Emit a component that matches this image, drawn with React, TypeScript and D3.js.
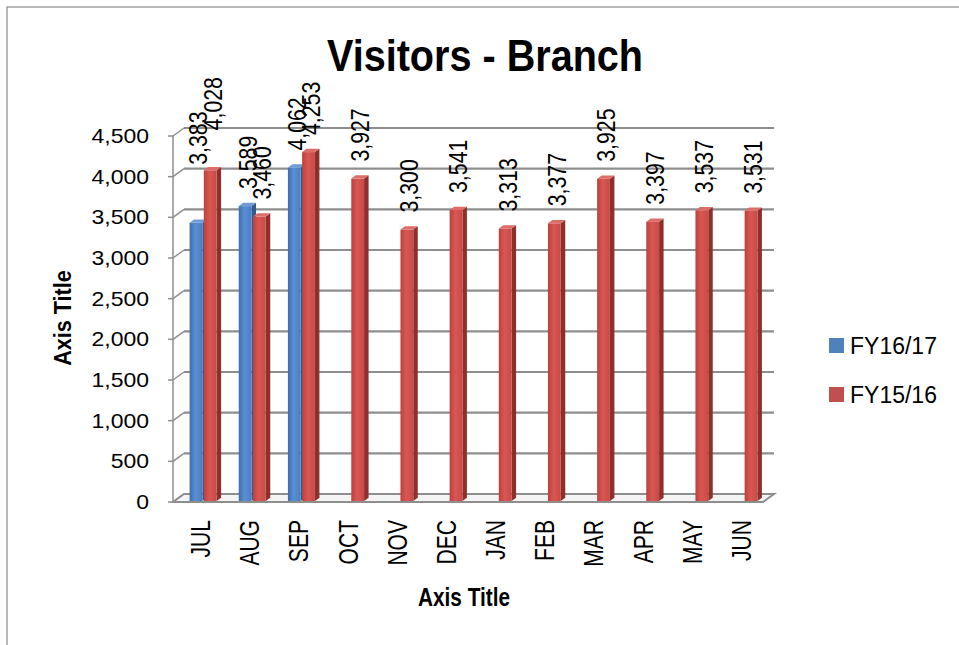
import React from 'react';
import * as d3 from 'd3';

const categories = ['JUL', 'AUG', 'SEP', 'OCT', 'NOV', 'DEC', 'JAN', 'FEB', 'MAR', 'APR', 'MAY', 'JUN'];
const seriesNames = ['FY16/17', 'FY15/16'];
const fy1617: (number | null)[] = [3383, 3589, 4062, null, null, null, null, null, null, null, null, null];
const fy1516: (number | null)[] = [4028, 3460, 4253, 3927, 3300, 3541, 3313, 3377, 3925, 3397, 3537, 3531];
const yTicks = [0, 500, 1000, 1500, 2000, 2500, 3000, 3500, 4000, 4500];

const W = 959;
const H = 645;
const X0 = 173;
const X1 = 763;
const YB = 502;
const YT = 136;
const DX = 11;
const DY = -8;
const BDX = 5.5;
const BDY = -4;
const SIDE_DX = 4.5;
const SIDE_DY = -3.3;
const LABEL_GAP = 17;
// extra lift of the hand-placed July labels in the reference
const labelLift: Record<string, number> = { 'JUL|FY16/17': 41, 'JUL|FY15/16': 23 };

const sans = '"Liberation Sans", Arial, sans-serif';
const grid = '#8e8e8e';

const colors: Record<string, { front: string; side: string; top: string }> = {
  'FY16/17': { front: 'url(#gBlue)', side: '#335a8e', top: '#6f9bd6' },
  'FY15/16': { front: 'url(#gRed)', side: '#8e2f2c', top: '#dc6d69' },
};
const legendColors: Record<string, string> = { 'FY16/17': '#4f81bd', 'FY15/16': '#c0504d' };

export default function App() {
  const y = d3.scaleLinear().domain([0, 4500]).range([YB, YT]);
  const xFront = d3.scaleBand<string>().domain(categories).range([X0, X1]).padding(0);
  const xBar = d3.scaleBand<string>().domain(categories).range([X0 + BDX, X1 + BDX]).padding(0);

  const seriesData: Record<string, (number | null)[]> = { 'FY16/17': fy1617, 'FY15/16': fy1516 };

  const bars: React.ReactNode[] = [];
  const labels: React.ReactNode[] = [];
  categories.forEach((cat, i) => {
    const c = (xBar(cat) as number) + xBar.bandwidth() / 2;
    const sub = d3.scaleBand<string>().domain(seriesNames).range([c - 13.5, c + 13.5]).paddingInner(0.1);
    seriesNames.forEach((s) => {
      const v = seriesData[s][i];
      if (v == null) return;
      const x = sub(s) as number;
      const w = sub.bandwidth();
      const top = y(v) + BDY;
      const bot = y(0) + BDY + 3;
      const col = colors[s];
      bars.push(
        <g key={`${cat}-${s}`}>
          <polygon
            points={`${x + w},${top} ${x + w + SIDE_DX},${top + SIDE_DY} ${x + w + SIDE_DX},${bot + SIDE_DY} ${x + w},${bot}`}
            fill={col.side}
          />
          <polygon
            points={`${x},${top} ${x + SIDE_DX},${top + SIDE_DY} ${x + w + SIDE_DX},${top + SIDE_DY} ${x + w},${top}`}
            fill={col.top}
          />
          <rect x={x} y={top} width={w} height={bot - top} fill={col.front} />
        </g>
      );
      const lift = labelLift[`${cat}|${s}`] || 0;
      const ly = top - LABEL_GAP - lift;
      const lx = x + (w + SIDE_DX) / 2;
      labels.push(
        <text
          key={`l-${cat}-${s}`}
          transform={`translate(${lx},${ly}) rotate(-90) scale(0.82,1)`}
          dy="0.35em"
          textAnchor="start"
          fontFamily={sans}
          fontSize={26}
          fill="#000"
        >
          {d3.format(',')(v)}
        </text>
      );
    });
  });

  return (
    <svg width={W} height={H} style={{ position: 'absolute', left: 0, top: 0, background: '#fff' }}>
      <defs>
        <linearGradient id="gBlue" x1="0" x2="1" y1="0" y2="0">
          <stop offset="0%" stopColor="#3d6db0" />
          <stop offset="45%" stopColor="#5a8fd4" />
          <stop offset="100%" stopColor="#4a7ec4" />
        </linearGradient>
        <linearGradient id="gRed" x1="0" x2="1" y1="0" y2="0">
          <stop offset="0%" stopColor="#bd3f3c" />
          <stop offset="45%" stopColor="#d95753" />
          <stop offset="100%" stopColor="#c84a47" />
        </linearGradient>
      </defs>
      <rect x={7} y={7} width={1000} height={660} fill="#fff" stroke="#8a8a8a" strokeWidth={1.2} />

      {/* back wall gridlines and side-wall diagonals */}
      {yTicks.map((t) => (
        <g key={`g${t}`}>
          {t > 0 && (
            <line x1={X0 + DX} x2={X1 + DX} y1={y(t) + DY} y2={y(t) + DY} stroke={grid} strokeWidth={2.2} />
          )}
          <line x1={X0} x2={X0 + DX} y1={y(t)} y2={y(t) + DY} stroke={grid} strokeWidth={1.5} />
          <line x1={X0 - 5} x2={X0} y1={y(t)} y2={y(t)} stroke={grid} strokeWidth={1.5} />
        </g>
      ))}
      {/* floor */}
      <polygon
        points={`${X0},${y(0)} ${X1},${y(0)} ${X1 + DX},${y(0) + DY} ${X0 + DX},${y(0) + DY}`}
        fill="#f4f4f4"
        stroke={grid}
        strokeWidth={2}
      />
      <line x1={X0} x2={X0} y1={y(0)} y2={y(4500)} stroke={grid} strokeWidth={1.5} />

      {bars}
      {labels}

      {/* y tick labels */}
      {yTicks.map((t) => (
        <text
          key={`t${t}`}
          transform={`translate(149,${y(t)}) scale(1.15,1)`}
          dy="0.35em"
          textAnchor="end"
          fontFamily={sans}
          fontSize={20}
          fill="#000"
        >
          {d3.format(',')(t)}
        </text>
      ))}

      {/* category labels */}
      {categories.map((c) => (
        <text
          key={`c${c}`}
          transform={`translate(${(xFront(c) as number) + xFront.bandwidth() / 2 + 3},520) rotate(-90) scale(0.78,1)`}
          dy="0.35em"
          textAnchor="end"
          fontFamily={sans}
          fontSize={27}
          fill="#000"
        >
          {c}
        </text>
      ))}

      {/* titles */}
      <text
        transform="translate(485,71) scale(0.9,1)"
        textAnchor="middle"
        fontFamily={sans}
        fontWeight="bold"
        fontSize={44}
        fill="#000"
      >
        Visitors - Branch
      </text>
      <text
        transform="translate(464,606) scale(0.83,1)"
        textAnchor="middle"
        fontFamily={sans}
        fontWeight="bold"
        fontSize={25}
        fill="#000"
      >
        Axis Title
      </text>
      <text
        transform="translate(63,318) rotate(-90) scale(0.9,1)"
        dy="0.35em"
        textAnchor="middle"
        fontFamily={sans}
        fontWeight="bold"
        fontSize={24}
        fill="#000"
      >
        Axis Title
      </text>

      {/* legend */}
      {seriesNames.map((s, i) => (
        <g key={`lg${s}`} transform={`translate(829,${338 + i * 49})`}>
          <rect x={0} y={0} width={15} height={15} fill={legendColors[s]} />
          <text x={21} y={16} fontFamily={sans} fontSize={23} fill="#000">
            {s}
          </text>
        </g>
      ))}
    </svg>
  );
}
